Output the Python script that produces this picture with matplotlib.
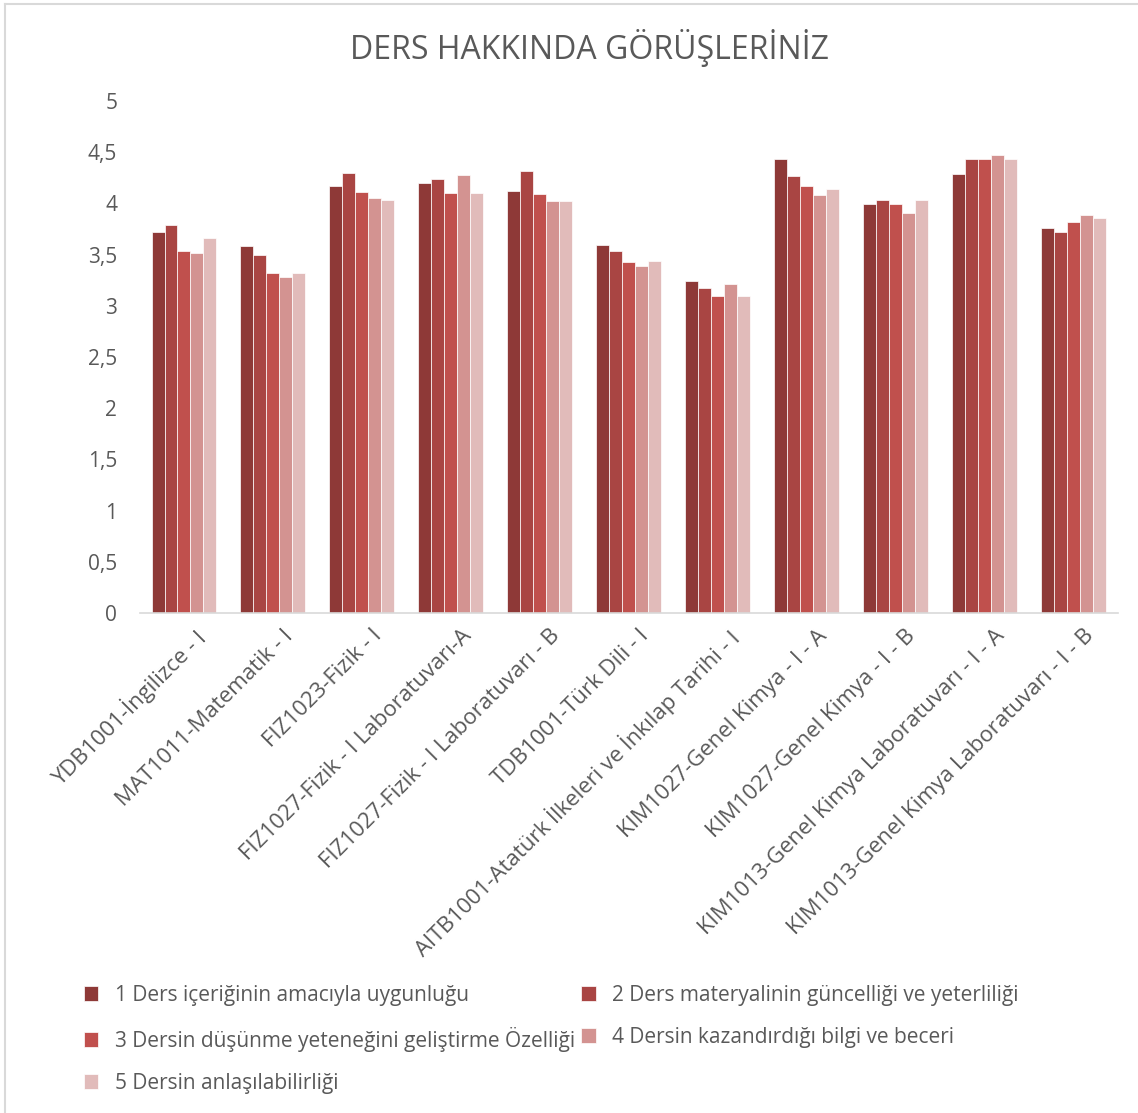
import matplotlib
matplotlib.use("Agg")
import matplotlib.pyplot as plt
import matplotlib.transforms as mtransforms
import numpy as np
from matplotlib.ticker import FuncFormatter
from matplotlib.lines import Line2D

plt.rcParams['font.family'] = ['Open Sans', 'DejaVu Sans']

courses = ['YDB1001-İngilizce - I', 'MAT1011-Matematik - I', 'FIZ1023-Fizik - I',
           'FIZ1027-Fizik - I Laboratuvarı-A', 'FIZ1027-Fizik - I Laboratuvarı - B',
           'TDB1001-Türk Dili - I', 'AITB1001-Atatürk İlkeleri ve İnkılap Tarihi - I',
           'KIM1027-Genel Kimya - I - A', 'KIM1027-Genel Kimya - I - B',
           'KIM1013-Genel Kimya Laboratuvarı - I - A', 'KIM1013-Genel Kimya Laboratuvarı - I - B']

series_names = ['1 Ders içeriğinin amacıyla uygunluğu',
                '2 Ders materyalinin güncelliği ve yeterliliği',
                '3 Dersin düşünme yeteneğini geliştirme Özelliği',
                '4 Dersin kazandırdığı bilgi ve beceri',
                '5 Dersin anlaşılabilirliği']

s1 = [3.72, 3.58, 4.17, 4.20, 4.12, 3.59, 3.24, 4.43, 3.99, 4.29, 3.76]
s2 = [3.79, 3.50, 4.30, 4.24, 4.32, 3.54, 3.17, 4.27, 4.03, 4.43, 3.72]
s3 = [3.54, 3.32, 4.11, 4.10, 4.09, 3.43, 3.10, 4.17, 3.99, 4.43, 3.82]
s4 = [3.52, 3.28, 4.05, 4.28, 4.02, 3.39, 3.21, 4.08, 3.91, 4.47, 3.89]
s5 = [3.66, 3.32, 4.03, 4.10, 4.02, 3.44, 3.10, 4.14, 4.03, 4.43, 3.86]

colors = ['#8E3937', '#A94543', '#C0504D', '#D39391', '#E1BBBA']

fig = plt.figure(figsize=(11.38, 11.13), dpi=100)
ax = fig.add_axes([0.1226, 0.4492, 0.8594, 0.46])

x = np.arange(len(courses))
n = 5
group_w = 0.73
bw = group_w / n
bars = []
for i, vals in enumerate([s1, s2, s3, s4, s5]):
    b = ax.bar(x - group_w / 2 + bw * (i + 0.5), vals, width=bw, color=colors[i],
               edgecolor='white', linewidth=0.5, label=series_names[i])
    bars.append(b)

ax.set_xlim(-0.5, len(courses) - 0.5)
ax.set_ylim(0, 5)
ax.set_yticks(np.arange(0, 5.01, 0.5))
ax.yaxis.set_major_formatter(FuncFormatter(lambda v, p: ('%g' % v).replace('.', ',')))
ax.set_xticks(x)
ax.set_xticklabels(courses, rotation=45, ha='right', rotation_mode='anchor')
ax.tick_params(axis='y', length=0, labelsize=15, labelcolor='#595959', pad=16)
ax.tick_params(axis='x', length=0, labelsize=16, labelcolor='#595959', pad=6)
shift = mtransforms.ScaledTranslation(10 / 100, -4 / 100, fig.dpi_scale_trans)
for lab in ax.get_xticklabels():
    lab.set_transform(lab.get_transform() + shift)
for s in ['top', 'right', 'left']:
    ax.spines[s].set_visible(False)
ax.spines['bottom'].set_color('#D9D9D9')
ax.spines['bottom'].set_linewidth(1.2)

fig.text(0.518, 0.957, 'DERS HAKKINDA GÖRÜŞLERİNİZ', ha='center', va='center',
         fontsize=23, color='#595959')

order = [0, 2, 4, 1, 3]
leg = fig.legend([bars[i] for i in order], [series_names[i] for i in order],
                 loc='upper left', bbox_to_anchor=(0.057, 0.132), ncol=2, frameon=False,
                 fontsize=15, labelcolor='#595959', handlelength=0.7, handleheight=0.7,
                 handletextpad=0.8, columnspacing=0.3, labelspacing=1.0)

# chart area border (top and left edges visible)
fig.add_artist(Line2D([5 / 1138, 1], [1 - 4 / 1113, 1 - 4 / 1113], transform=fig.transFigure,
                      color='#D9D9D9', linewidth=1.5))
fig.add_artist(Line2D([5 / 1138, 5 / 1138], [0, 1 - 4 / 1113], transform=fig.transFigure,
                      color='#D9D9D9', linewidth=1.5))

fig.savefig('out.png', dpi=100)
